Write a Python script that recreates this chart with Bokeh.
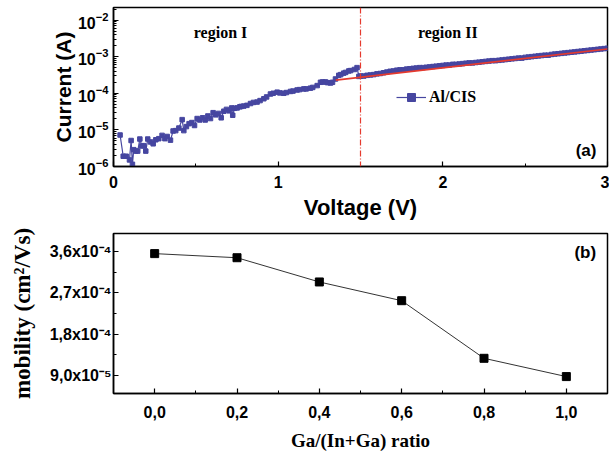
import numpy as np
from bokeh.plotting import figure
from bokeh.layouts import column
from bokeh.models import (Span, Label, Legend, LegendItem, FixedTicker,
                          SingleIntervalTicker, ColumnDataSource, Title)
from bokeh.embed import file_html
from bokeh.resources import INLINE

# ---------------- data: panel (a) ----------------
voltage_V = [
    0.040, 0.059, 0.077, 0.097, 0.107, 0.115, 0.123, 0.135, 0.147, 0.160,
    0.172, 0.184, 0.196, 0.208, 0.225, 0.241, 0.257, 0.275, 0.295, 0.312,
    0.326, 0.346, 0.362, 0.378, 0.397, 0.417, 0.427, 0.443, 0.459, 0.476,
    0.492, 0.508, 0.524, 0.541, 0.557, 0.573, 0.589, 0.605, 0.621, 0.638,
    0.654, 0.670, 0.686, 0.702, 0.718, 0.724, 0.735, 0.751, 0.767, 0.775,
    0.791, 0.810, 0.832, 0.850, 0.872, 0.890, 0.913, 0.930, 0.953, 0.970,
    0.994, 1.010, 1.034, 1.050, 1.075, 1.090, 1.115, 1.130, 1.156, 1.170,
    1.196, 1.210, 1.237, 1.257, 1.270, 1.287, 1.300, 1.318, 1.330, 1.348,
    1.368, 1.380, 1.398, 1.410, 1.429, 1.440, 1.463, 1.479, 1.490,
    1.50, 1.52, 1.54, 1.56, 1.58, 1.60, 1.62, 1.64, 1.66, 1.68,
    1.70, 1.72, 1.74, 1.76, 1.78, 1.80, 1.82, 1.84, 1.86, 1.88,
    1.90, 1.92, 1.94, 1.96, 1.98, 2.00, 2.02, 2.04, 2.06, 2.08,
    2.10, 2.12, 2.14, 2.16, 2.18, 2.20, 2.22, 2.24, 2.26, 2.28,
    2.30, 2.32, 2.34, 2.36, 2.38, 2.40, 2.42, 2.44, 2.46, 2.48,
    2.50, 2.52, 2.54, 2.56, 2.58, 2.60, 2.62, 2.64, 2.66, 2.68,
    2.70, 2.72, 2.74, 2.76, 2.78, 2.80, 2.82, 2.84, 2.86, 2.88,
    2.90, 2.92, 2.94, 2.96, 2.98, 3.00,
]
current_log10 = [
    -5.14, -5.72, -5.72, -5.82, -5.29, -5.94, -5.54, -5.58, -5.58, -5.25,
    -5.44, -5.43, -5.58, -5.25, -5.33, -5.38, -5.27, -5.24, -5.15, -5.24,
    -5.18, -5.28, -5.03, -5.02, -4.95, -4.72, -5.02, -4.91, -4.83, -4.80,
    -4.88, -4.69, -4.73, -4.67, -4.73, -4.62, -4.69, -4.53, -4.59, -4.55,
    -4.67, -4.49, -4.44, -4.48, -4.40, -4.60, -4.41, -4.40, -4.37, -4.36,
    -4.35, -4.33, -4.28, -4.25, -4.24, -4.20, -4.15, -4.10, -4.02, -4.00,
    -3.97, -3.99, -4.00, -3.98, -3.95, -3.94, -3.91, -3.90, -3.88, -3.88,
    -3.86, -3.84, -3.79, -3.70, -3.69, -3.69, -3.71, -3.72, -3.70, -3.61,
    -3.51, -3.49, -3.45, -3.43, -3.39, -3.38, -3.35, -3.30, -3.54,
    -3.53, -3.53, -3.51, -3.50, -3.49, -3.47, -3.46, -3.44, -3.42, -3.40,
    -3.39, -3.37, -3.36, -3.36, -3.34, -3.33, -3.32, -3.31, -3.30, -3.30,
    -3.29, -3.28, -3.27, -3.26, -3.25, -3.24, -3.23, -3.23, -3.21, -3.21,
    -3.20, -3.19, -3.18, -3.17, -3.17, -3.16, -3.15, -3.14, -3.13, -3.12,
    -3.11, -3.11, -3.10, -3.09, -3.08, -3.07, -3.06, -3.05, -3.04, -3.04,
    -3.02, -3.01, -3.00, -2.99, -2.98, -2.97, -2.96, -2.96, -2.94, -2.93,
    -2.92, -2.91, -2.90, -2.89, -2.88, -2.87, -2.86, -2.85, -2.84, -2.83,
    -2.82, -2.81, -2.80, -2.79, -2.78, -2.77,
]
fit_V = [1.35, 3.0]
fit_log10 = [-3.64, -2.79]
boundary_V = 1.5

# ---------------- data: panel (b) ----------------
ratio = [0.0, 0.2, 0.4, 0.6, 0.8, 1.0]
mobility = [3.56e-4, 3.47e-4, 2.94e-4, 2.53e-4, 1.27e-4, 8.7e-5]
ratio_ticks = [0.0, 0.2, 0.4, 0.6, 0.8, 1.0]
ratio_minor = [-0.1, 0.1, 0.3, 0.5, 0.7, 0.9, 1.1]
ratio_tick_labels = ["0,0", "0,2", "0,4", "0,6", "0,8", "1,0"]
mob_ticks = [9.0e-5, 1.8e-4, 2.7e-4, 3.6e-4]
mob_minor = [1.35e-4, 2.25e-4, 3.15e-4]
mob_tick_labels = ["9,0x10\u207b\u2075", "1,8x10\u207b\u2074",
                   "2,7x10\u207b\u2074", "3,6x10\u207b\u2074"]

BLUE = "#4646A0"
RED = "#E53A2E"
SANS = "Liberation Sans"
SERIF = "Liberation Serif"


def style_axes(p, tick_size):
    for ax in (p.xaxis + p.yaxis):
        ax.major_tick_in = 5
        ax.major_tick_out = 0
        ax.minor_tick_in = 3
        ax.minor_tick_out = 0
        ax.axis_line_width = 1.5
        ax.axis_line_color = "black"
        ax.major_tick_line_color = "black"
        ax.minor_tick_line_color = "black"
        ax.major_tick_line_width = 1.2
        ax.minor_tick_line_width = 1
        ax.major_label_text_font = SANS
        ax.major_label_text_font_style = "bold"
        ax.major_label_text_font_size = tick_size
        ax.major_label_text_color = "black"
        ax.axis_label_text_color = "black"
    p.xgrid.visible = False
    p.ygrid.visible = False
    p.outline_line_color = "black"
    p.outline_line_width = 1.5
    p.outline_line_alpha = 1.0


# ---------------- panel (a) ----------------
p1 = figure(width=609, height=222, x_range=(0, 3), y_range=(1e-6, 0.022),
            y_axis_type="log", output_backend="svg", toolbar_location=None,
            min_border_left=113, min_border_right=2, min_border_top=7,
            min_border_bottom=53)
style_axes(p1, "16px")
p1.xaxis.ticker = SingleIntervalTicker(interval=1, num_minor_ticks=2)
p1.xaxis.major_label_standoff = 9
p1.yaxis.major_label_standoff = 5
p1.xaxis.axis_label = "Voltage (V)"
p1.xaxis.axis_label_text_font = SANS
p1.xaxis.axis_label_text_font_style = "bold"
p1.xaxis.axis_label_text_font_size = "22px"
p1.xaxis.axis_label_standoff = 4
# y label sits a little below the frame centre in the original
p1.add_layout(Title(text="Current (A)", align="center", offset=-18,
                    standoff=0, text_font=SANS, text_font_style="bold",
                    text_font_size="21px", text_color="black"), "left")

cur = 10 ** np.array(current_log10)
src = ColumnDataSource(dict(v=voltage_V, i=cur))
ln = p1.line("v", "i", source=src, line_color=BLUE, line_width=1.2)
sc = p1.scatter("v", "i", source=src, marker="square", size=4.5,
                fill_color=BLUE, line_color=BLUE)
p1.line(fit_V, (10 ** np.array(fit_log10)).tolist(), line_color=RED,
        line_width=1.6)
p1.add_layout(Span(location=boundary_V, dimension="height", line_color=RED,
                   line_width=1.2, line_dash="6 2 1 2"))

for txt, xv, yv in [("region I", 0.65, 4.5e-3), ("region II", 2.03, 4.5e-3)]:
    p1.add_layout(Label(x=xv, y=yv, text=txt, text_font=SERIF,
                        text_font_style="bold", text_font_size="16px",
                        text_color="black",
                        text_align="center", text_baseline="middle"))
p1.add_layout(Label(x=2.87, y=2.7e-6, text="(a)", text_font=SANS,
                    text_font_style="bold", text_font_size="17px",
                    text_color="black",
                    text_align="center", text_baseline="middle"))

leg = Legend(items=[LegendItem(label="Al/CIS", renderers=[ln, sc])],
             location=(283, 59), glyph_width=30, glyph_height=20,
             label_height=20, label_standoff=3, padding=0, margin=0,
             spacing=0, background_fill_alpha=0, border_line_alpha=0,
             label_text_font=SERIF, label_text_font_style="bold",
             label_text_font_size="16px", label_text_color="black")
p1.add_layout(leg)

# ---------------- panel (b) ----------------
p2 = figure(width=609, height=231, x_range=(-0.1, 1.1), y_range=(5e-5, 4e-4),
            output_backend="svg", toolbar_location=None,
            min_border_left=113, min_border_right=2, min_border_top=11,
            min_border_bottom=57)
style_axes(p2, "16px")
p2.xaxis.ticker = FixedTicker(ticks=ratio_ticks, minor_ticks=ratio_minor)
p2.xaxis.major_label_overrides = dict(zip(ratio_ticks, ratio_tick_labels))
p2.yaxis.ticker = FixedTicker(ticks=mob_ticks, minor_ticks=mob_minor)
p2.yaxis.major_label_overrides = dict(zip(mob_ticks, mob_tick_labels))
p2.yaxis.major_label_standoff = 2
p2.xaxis.major_label_standoff = 12
p2.xaxis.axis_label = "Ga/(In+Ga) ratio"
p2.yaxis.axis_label = "mobility (cm\u00b2/Vs)"
for ax in (p2.xaxis[0], p2.yaxis[0]):
    ax.axis_label_text_font = SERIF
    ax.axis_label_text_font_style = "bold"
p2.xaxis.axis_label_text_font_size = "19px"
p2.yaxis.axis_label_text_font_size = "23px"
p2.xaxis.axis_label_standoff = 9
p2.yaxis.axis_label_standoff = 12

p2.line(ratio, mobility, line_color="#333333", line_width=1)
p2.scatter(ratio, mobility, marker="square", size=8, fill_color="black",
           line_color="black")
p2.add_layout(Label(x=1.046, y=3.58e-4, text="(b)", text_font=SANS,
                    text_font_style="bold", text_font_size="17px",
                    text_color="black",
                    text_align="center", text_baseline="middle"))

layout = column(p1, p2)
open("out.html", "w").write(file_html(layout, INLINE))
